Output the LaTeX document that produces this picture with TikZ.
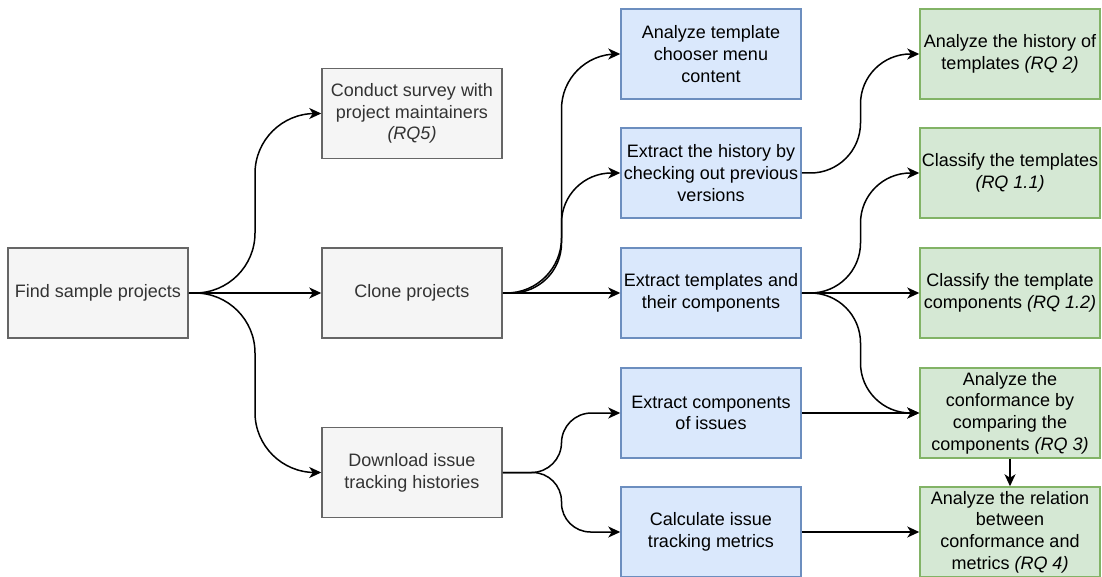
\documentclass[tikz,border=0pt]{standalone}
\usepackage{fontspec}
\setmainfont{Liberation Sans}
\usetikzlibrary{arrows.meta,calc}
\definecolor{grayfill}{HTML}{F5F5F5}
\definecolor{graydraw}{HTML}{666666}
\definecolor{graytext}{HTML}{333333}
\definecolor{bluefill}{HTML}{DAE8FC}
\definecolor{bluedraw}{HTML}{6C8EBF}
\definecolor{greenfill}{HTML}{D5E8D4}
\definecolor{greendraw}{HTML}{82B366}
\begin{document}
\begin{tikzpicture}[x=1pt,y=-1pt,
  box/.style={rectangle, minimum width=180pt, minimum height=90pt, inner sep=0pt,
    line width=1.5pt, align=center, font=\fontsize{18}{21.7}\selectfont},
  graybox/.style={box, fill=grayfill, draw=graydraw, text=graytext},
  bluebox/.style={box, fill=bluefill, draw=bluedraw},
  greenbox/.style={box, fill=greenfill, draw=greendraw},
  conn/.style={line width=1.5pt, -{Stealth[length=12pt,width=11pt,inset=3.5pt]}},
  curvy/.style={rounded corners=#1, to path={let \p1=(\tikztostart), \p2=(\tikztotarget) in
      -- ({(\x1+\x2)/2},\y1) -- ({(\x1+\x2)/2},\y2) -- (\tikztotarget)}}]
\useasboundingbox (0,0) rectangle (1102,577);
% left column
\node[graybox] (find) at (98,293) {Find sample projects};
% second column
\node[graybox] (survey) at (412,113.5) {Conduct survey with\\project maintainers\\\textit{(RQ5)}};
\node[graybox] (clone) at (412,293) {Clone projects};
\node[graybox] (download) at (412,472.5) {Download issue\\tracking histories};
% third column
\node[bluebox] (chooser) at (711,54) {Analyze template\\chooser menu\\content};
\node[bluebox] (history) at (711,173) {Extract the history by\\checking out previous\\versions};
\node[bluebox] (extract) at (711,293) {Extract templates and\\their components};
\node[bluebox] (issues) at (711,413) {Extract components\\of issues};
\node[bluebox] (metrics) at (711,532) {Calculate issue\\tracking metrics};
% fourth column
\node[greenbox] (anhist) at (1010,54) {Analyze the history of\\templates \textit{(RQ 2)}};
\node[greenbox] (classt) at (1010,173) {Classify the templates\\\textit{(RQ 1.1)}};
\node[greenbox] (classc) at (1010,293) {Classify the template\\components \textit{(RQ 1.2)}};
\node[greenbox] (conform) at (1010,413) {Analyze the\\conformance by\\comparing the\\components \textit{(RQ 3)}};
\node[greenbox] (relation) at (1010,532) {Analyze the relation\\between\\conformance and\\metrics \textit{(RQ 4)}};
% connectors
\draw[conn, curvy=60] (find.east) to (survey.west);
\draw[conn] (find.east) -- (clone.west);
\draw[conn, curvy=60] (find.east) to (download.west);
\draw[conn, curvy=55] (clone.east) to (chooser.west);
\draw[conn, curvy=50] (clone.east) to (history.west);
\draw[conn] (clone.east) -- (extract.west);
\draw[conn, curvy=30] (download.east) to (issues.west);
\draw[conn, curvy=29] (download.east) to (metrics.west);
\draw[conn, curvy=50] (history.east) to (anhist.west);
\draw[conn, curvy=50] (extract.east) to (classt.west);
\draw[conn] (extract.east) -- (classc.west);
\draw[conn, curvy=50] (extract.east) to (conform.west);
\draw[conn] (issues.east) -- (conform.west);
\draw[conn] (metrics.east) -- (relation.west);
\draw[conn] (conform.south) -- (relation.north);
\end{tikzpicture}
\end{document}
